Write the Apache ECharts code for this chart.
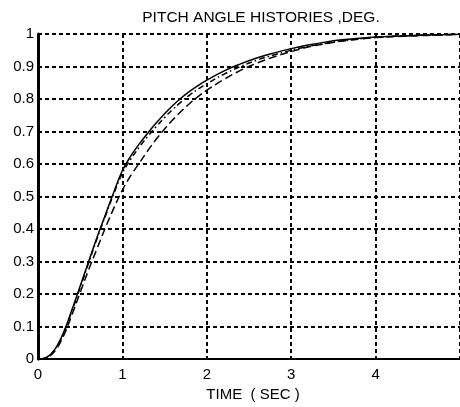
<!DOCTYPE html>
<html>
<head>
<meta charset="utf-8">
<script src="https://cdn.jsdelivr.net/npm/echarts@6/dist/echarts.min.js"></script>
<style>html,body{margin:0;padding:0;background:#fff}#c{width:460px;height:407px}</style>
</head>
<body>
<div id="c"></div>
<script>
var titleText = 'PITCH ANGLE HISTORIES ,DEG.';
var xName = 'TIME  ( SEC )';
var time    = [0,0.1,0.2,0.3,0.4,0.5,0.6,0.7,0.8,0.9,1.0,1.1,1.2,1.3,1.4,1.5,1.6,1.7,1.8,1.9,2.0,2.2,2.4,2.6,2.8,3.0,3.2,3.4,3.6,3.8,4.0,4.4,4.8,5.0];
var solid   = [0,0.005,0.03,0.08,0.15,0.225,0.30,0.375,0.445,0.515,0.58,0.625,0.662,0.695,0.726,0.755,0.781,0.804,0.824,0.842,0.858,0.886,0.908,0.927,0.942,0.955,0.966,0.975,0.982,0.987,0.991,0.995,0.998,0.999];
var dashDot = [0,0.005,0.029,0.078,0.146,0.22,0.296,0.371,0.441,0.51,0.572,0.615,0.652,0.685,0.715,0.743,0.769,0.792,0.813,0.831,0.847,0.876,0.9,0.92,0.936,0.95,0.962,0.971,0.979,0.985,0.99,0.995,0.998,0.999];
var dashed  = [0,0.004,0.025,0.07,0.135,0.205,0.275,0.34,0.405,0.465,0.52,0.565,0.603,0.641,0.676,0.708,0.737,0.763,0.787,0.808,0.827,0.86,0.888,0.911,0.93,0.946,0.96,0.97,0.978,0.984,0.989,0.994,0.997,0.999];
var xTicks = [0,1,2,3,4];
var yTicks = [0,0.1,0.2,0.3,0.4,0.5,0.6,0.7,0.8,0.9,1];

function pairs(v){ return time.map(function(t,i){ return [t, v[i]]; }); }
var FONT = '"Liberation Sans", Arial, sans-serif';
var chart = echarts.init(document.getElementById('c'), null, {renderer:'canvas'});
var gridLine = {show:true, lineStyle:{color:'#000', width:2, type:[4,3]}};
chart.setOption({
  animation:false,
  backgroundColor:'#fff',
  title:{text:titleText, left:261, top:10, textAlign:'center', padding:0,
    textStyle:{fontFamily:FONT, fontSize:15.5, fontWeight:'normal', color:'#000'}},
  grid:{left:38, top:34, bottom:40, right:-4, containLabel:false},
  xAxis:{type:'value', min:0, max:5, interval:1,
    name:xName, nameLocation:'middle', nameGap:22,
    nameTextStyle:{fontFamily:FONT, fontSize:15, color:'#000', padding:[0,0,0,8]},
    axisLine:{show:true, onZero:false, lineStyle:{color:'#000', width:2}},
    axisTick:{show:false},
    axisLabel:{fontFamily:FONT, fontSize:15, color:'#000', margin:8, showMaxLabel:false,
      formatter:function(v){ return xTicks.indexOf(v) >= 0 ? String(v) : ''; }},
    splitLine:gridLine},
  yAxis:{type:'value', min:0, max:1, interval:0.1,
    axisLine:{show:true, lineStyle:{color:'#000', width:3}},
    axisTick:{show:false},
    axisLabel:{fontFamily:FONT, fontSize:15, color:'#000', margin:4,
      formatter:function(v){ var r = Math.round(v*10)/10; return yTicks.indexOf(r) >= 0 ? String(r) : ''; }},
    splitLine:gridLine},
  series:[
    {type:'line', data:pairs(solid), symbol:'none', smooth:0.4, lineStyle:{color:'#000', width:1.5, type:'solid'}},
    {type:'line', data:pairs(dashDot), symbol:'none', smooth:0.4, lineStyle:{color:'#000', width:1.5, type:[6,3,1.5,3]}},
    {type:'line', data:pairs(dashed), symbol:'none', smooth:0.4, lineStyle:{color:'#000', width:1.5, type:[8,4]}}
  ]
});
</script>
</body>
</html>
